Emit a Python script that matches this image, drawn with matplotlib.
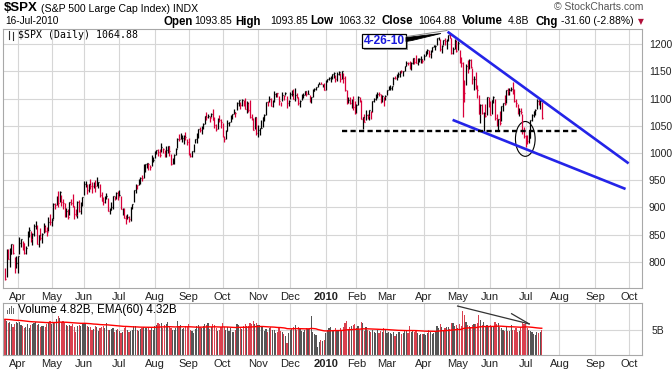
import matplotlib
matplotlib.use("Agg")
import matplotlib.pyplot as plt
import numpy as np
import pandas as pd
from matplotlib.patches import Ellipse, Polygon, Rectangle
from matplotlib.lines import Line2D

# $SPX daily bars, 20-Mar-2009 .. 16-Jul-2010
first_day = "2009-03-20"
last_axis_day = "2010-10-29"
nyse_holidays = ["2009-04-10", "2009-05-25", "2009-07-03", "2009-09-07", "2009-11-26",
                 "2009-12-25", "2010-01-01", "2010-01-18", "2010-02-15", "2010-04-02",
                 "2010-05-31", "2010-07-05", "2010-09-06"]
prev_close = 784.04  # 19-Mar-2009, only used to colour the first bar

close = [
    768.5, 822.9, 806.1, 813.9, 832.9, 815.9, 787.5, 797.9,
    811.1, 834.4, 842.5, 835.5, 815.6, 825.2, 856.6, 858.7, 841.5, 852.1, 865.3, 869.6, 832.4, 850.1,
    843.6, 851.9, 866.2, 857.5, 855.2, 873.6, 872.8,
    877.5, 907.2, 903.8, 919.5, 907.4, 929.2, 909.2, 908.4, 883.9, 893.1, 882.9, 909.7, 908.1, 903.5,
    888.3, 887.0, 910.3, 893.1, 906.8, 919.1,
    942.9, 944.7, 931.8, 942.5, 940.1, 939.1, 942.4, 939.2, 944.9, 946.2, 923.7, 912.0, 910.7, 918.4,
    921.2, 893.0, 895.1, 900.9, 920.3, 918.9, 927.2, 919.3,
    923.3, 896.4, 898.7, 881.0, 879.6, 882.7, 879.1, 901.1, 905.8, 932.7, 940.7, 940.4, 951.1, 954.6,
    954.1, 976.3, 979.3, 982.2, 979.6, 975.2, 986.8, 987.5,
    1002.6, 1005.7, 1002.7, 997.1, 1010.5, 1007.1, 994.4, 1005.8, 1012.7, 1004.1, 979.7, 989.7, 996.5,
    1007.4, 1026.1, 1025.6, 1028.0, 1028.1, 1031.0, 1028.9, 1020.6,
    998.0, 994.8, 1003.2, 1016.4, 1025.4, 1033.4, 1044.1, 1042.7, 1049.3, 1052.6, 1068.8, 1065.5,
    1068.3, 1064.7, 1071.7, 1060.9, 1050.8, 1044.4, 1063.0, 1060.6, 1057.1,
    1029.9, 1025.2, 1040.5, 1054.7, 1057.6, 1065.5, 1071.5, 1076.2, 1073.2, 1092.0, 1096.6, 1087.7,
    1097.9, 1091.1, 1081.4, 1092.9, 1079.6, 1067.0, 1063.4, 1042.6, 1066.1, 1036.2,
    1042.9, 1045.4, 1046.5, 1066.6, 1069.3, 1093.1, 1093.0, 1098.5, 1087.2, 1093.5, 1109.3, 1110.3,
    1109.8, 1094.9, 1091.4, 1106.2, 1105.7, 1110.6, 1091.5, 1095.6,
    1108.9, 1109.2, 1099.9, 1106.0, 1103.3, 1091.9, 1096.0, 1102.4, 1106.4, 1114.1, 1107.9, 1109.2,
    1096.1, 1102.5, 1114.1, 1118.0, 1120.6, 1126.5, 1127.8, 1126.2, 1126.4, 1115.1,
    1133.0, 1136.5, 1137.1, 1141.7, 1145.0, 1147.0, 1136.2, 1145.7, 1148.5, 1136.0, 1150.2, 1138.0,
    1116.5, 1091.8, 1096.8, 1092.2, 1097.5, 1084.5, 1073.9,
    1089.2, 1103.3, 1097.3, 1063.1, 1066.2, 1056.7, 1070.5, 1068.1, 1078.5, 1075.5, 1094.9, 1099.5,
    1106.8, 1109.2, 1108.0, 1094.6, 1105.2, 1102.9, 1104.5,
    1115.7, 1118.3, 1118.8, 1123.0, 1138.7, 1138.5, 1140.5, 1145.6, 1150.2, 1150.0, 1150.5, 1159.5,
    1166.2, 1165.8, 1159.9, 1165.8, 1174.2, 1167.7, 1165.7, 1166.6, 1173.2, 1173.3, 1169.4,
    1178.1, 1187.4, 1189.4, 1182.5, 1186.4, 1194.4, 1196.5, 1197.3, 1210.7, 1211.7, 1192.1, 1197.5,
    1207.2, 1205.9, 1208.7, 1217.3, 1212.1, 1183.7, 1191.4, 1206.8, 1186.7,
    1202.3, 1173.6, 1165.9, 1128.2, 1110.9, 1159.7, 1155.8, 1171.7, 1157.4, 1135.7, 1136.9, 1120.8,
    1115.1, 1071.6, 1087.7, 1073.7, 1074.0, 1068.0, 1103.1, 1089.4,
    1070.7, 1098.4, 1102.8, 1064.9, 1050.5, 1062.0, 1055.7, 1086.8, 1091.6, 1089.6, 1115.2, 1114.6,
    1116.0, 1117.5, 1113.2, 1095.3, 1092.0, 1073.7, 1076.8, 1074.6, 1041.2, 1030.7,
    1027.4, 1022.6, 1028.1, 1060.3, 1070.3, 1078.0, 1078.8, 1095.3, 1095.2, 1096.5, 1064.9,
]

high = [
    788.9, 823.0, 823.3, 826.0, 833.0, 832.0, 809.0, 810.5,
    811.1, 845.6, 842.6, 839.0, 835.5, 828.7, 856.9, 864.3, 856.9, 853.0, 870.3, 875.6, 868.3, 850.1,
    861.8, 852.9, 871.8, 868.3, 864.5, 882.1, 888.7,
    880.5, 907.8, 907.7, 920.3, 929.6, 930.2, 923.0, 915.6, 908.3, 898.4, 897.0, 910.0, 916.4, 924.6,
    903.0, 896.7, 911.8, 913.8, 909.5, 920.0,
    947.8, 949.4, 942.5, 942.5, 951.7, 946.3, 947.0, 949.8, 956.2, 946.3, 942.5, 928.0, 918.4, 921.9,
    927.1, 918.1, 898.7, 910.9, 921.4, 922.0, 928.0, 930.0,
    931.9, 921.2, 898.8, 898.6, 886.8, 887.9, 883.6, 901.1, 905.9, 933.0, 944.0, 941.9, 951.6, 956.5,
    959.8, 979.4, 979.8, 982.5, 982.3, 977.8, 996.7, 993.2,
    1003.6, 1005.9, 1006.6, 1008.0, 1018.0, 1010.1, 1005.8, 1012.9, 1013.1, 1012.6, 998.6, 991.2,
    999.0, 1008.9, 1027.6, 1035.8, 1037.7, 1032.5, 1033.0, 1039.5, 1025.2,
    1028.4, 1000.3, 1003.4, 1016.5, 1026.1, 1036.3, 1044.2, 1048.2, 1049.7, 1056.0, 1068.8, 1074.8,
    1071.5, 1067.3, 1073.8, 1080.2, 1066.3, 1053.5, 1065.1, 1069.6, 1063.4,
    1054.6, 1030.6, 1042.6, 1060.6, 1058.0, 1070.7, 1071.5, 1081.4, 1075.1, 1093.2, 1096.6, 1094.7,
    1098.6, 1098.3, 1101.4, 1095.2, 1094.7, 1097.3, 1072.5, 1064.6, 1066.8, 1066.8,
    1052.2, 1046.4, 1061.0, 1066.7, 1071.3, 1093.2, 1096.4, 1105.4, 1101.8, 1097.6, 1113.7, 1110.4,
    1111.1, 1105.4, 1094.7, 1112.4, 1107.6, 1111.4, 1105.6, 1098.0,
    1112.3, 1115.6, 1117.3, 1119.1, 1110.7, 1103.3, 1096.6, 1108.4, 1110.4, 1114.8, 1114.1, 1116.2,
    1106.2, 1103.7, 1117.7, 1118.8, 1121.6, 1126.5, 1130.4, 1130.4, 1126.5, 1128.0,
    1133.9, 1136.6, 1139.2, 1142.5, 1145.4, 1149.7, 1143.0, 1148.4, 1150.4, 1147.8, 1150.4, 1147.8,
    1141.6, 1115.5, 1103.7, 1103.7, 1099.5, 1105.1, 1096.4,
    1089.4, 1104.7, 1102.7, 1097.3, 1067.1, 1071.2, 1079.3, 1071.2, 1080.0, 1077.8, 1095.0, 1101.0,
    1108.2, 1112.4, 1112.3, 1108.6, 1107.3, 1103.5, 1107.2,
    1116.0, 1123.7, 1125.6, 1123.7, 1139.4, 1141.1, 1145.4, 1148.3, 1150.3, 1153.4, 1150.6, 1160.3,
    1169.2, 1167.1, 1169.6, 1167.8, 1174.7, 1174.2, 1180.7, 1173.9, 1174.9, 1177.8, 1173.0,
    1181.4, 1187.7, 1191.8, 1189.6, 1188.6, 1194.7, 1199.2, 1199.0, 1210.7, 1213.9, 1210.2, 1197.9,
    1208.6, 1211.0, 1208.9, 1217.3, 1219.8, 1211.4, 1195.1, 1209.4, 1208.0,
    1205.1, 1188.6, 1176.0, 1167.6, 1135.1, 1163.9, 1170.5, 1173.6, 1173.6, 1157.2, 1141.9, 1148.7,
    1124.9, 1107.3, 1090.2, 1090.0, 1074.7, 1090.8, 1103.5, 1102.6,
    1094.8, 1098.4, 1105.7, 1098.6, 1071.9, 1063.2, 1077.7, 1087.0, 1092.0, 1105.9, 1115.6, 1118.7,
    1118.7, 1121.0, 1131.2, 1118.5, 1099.6, 1090.6, 1083.6, 1082.6, 1071.3, 1048.1,
    1033.6, 1032.9, 1042.5, 1060.6, 1071.3, 1078.2, 1080.8, 1099.1, 1099.6, 1098.4, 1093.9,
]

low = [
    766.2, 772.3, 805.0, 791.0, 814.8, 814.5, 779.8, 789.0,
    779.8, 814.5, 826.7, 821.4, 814.5, 814.8, 829.0, 845.4, 836.5, 831.0, 847.0, 860.9, 832.3, 826.8,
    840.6, 835.6, 853.9, 854.7, 847.1, 856.9, 868.4,
    866.0, 879.2, 897.3, 903.9, 901.4, 909.8, 903.3, 896.8, 882.7, 882.5, 878.9, 886.1, 905.2, 901.4,
    879.0, 884.5, 881.5, 891.9, 887.6, 903.0,
    923.3, 938.5, 923.9, 929.3, 934.1, 926.4, 936.3, 928.0, 939.0, 935.7, 919.7, 911.6, 903.8, 907.9,
    915.7, 893.0, 888.9, 896.0, 896.3, 913.0, 916.2, 912.9,
    920.3, 896.3, 886.4, 879.9, 869.3, 878.5, 872.8, 875.3, 896.5, 909.9, 927.5, 934.4, 941.0, 943.2,
    947.9, 953.3, 965.9, 972.3, 969.4, 968.7, 976.7, 982.9,
    990.2, 998.1, 994.3, 992.5, 1002.0, 1001.0, 992.4, 993.4, 1000.8, 994.6, 978.5, 980.6, 980.6,
    996.4, 1009.1, 1022.5, 1026.2, 1021.1, 1016.2, 1023.1, 1014.6,
    996.3, 992.0, 992.3, 1001.4, 1018.7, 1018.9, 1028.0, 1038.4, 1035.0, 1043.4, 1052.9, 1061.2,
    1064.3, 1057.5, 1066.4, 1060.4, 1045.9, 1041.2, 1044.4, 1057.8, 1046.5,
    1029.5, 1020.0, 1025.9, 1041.2, 1050.1, 1057.6, 1063.0, 1071.5, 1066.7, 1078.7, 1086.4, 1081.5,
    1086.9, 1086.2, 1080.8, 1074.3, 1075.3, 1063.8, 1060.6, 1042.6, 1043.4, 1034.0,
    1029.4, 1033.9, 1045.2, 1047.1, 1059.3, 1070.0, 1087.4, 1093.5, 1085.7, 1085.3, 1094.2, 1102.2,
    1102.7, 1088.3, 1086.8, 1094.9, 1097.6, 1106.5, 1083.7, 1086.3,
    1098.9, 1105.3, 1098.7, 1096.5, 1100.8, 1088.6, 1085.4, 1097.0, 1101.3, 1107.1, 1105.4, 1108.0,
    1094.7, 1091.1, 1102.5, 1114.4, 1116.0, 1121.1, 1126.1, 1126.1, 1121.9, 1115.0,
    1116.6, 1129.7, 1133.9, 1131.3, 1136.2, 1138.3, 1131.3, 1133.2, 1143.8, 1131.4, 1135.8, 1129.3,
    1114.8, 1090.2, 1091.4, 1089.9, 1083.1, 1078.5, 1071.6,
    1073.9, 1088.0, 1094.0, 1062.8, 1044.5, 1056.5, 1060.1, 1062.9, 1060.1, 1063.0, 1075.5, 1094.7,
    1097.7, 1100.8, 1105.4, 1092.2, 1094.6, 1086.0, 1097.6,
    1105.9, 1116.0, 1116.6, 1116.1, 1125.7, 1136.4, 1134.9, 1140.1, 1139.0, 1147.0, 1142.0, 1150.4,
    1159.9, 1161.6, 1155.3, 1152.9, 1163.8, 1163.7, 1165.1, 1161.5, 1167.7, 1166.0, 1165.0,
    1170.7, 1178.7, 1182.8, 1177.2, 1175.1, 1186.0, 1194.7, 1188.8, 1198.7, 1208.5, 1186.8, 1183.7,
    1199.0, 1198.9, 1191.0, 1205.1, 1211.1, 1181.6, 1181.8, 1191.4, 1186.3,
    1188.6, 1165.0, 1158.2, 1065.8, 1094.2, 1125.7, 1147.7, 1155.3, 1156.1, 1126.1, 1115.0, 1117.2,
    1100.7, 1071.5, 1055.9, 1072.7, 1040.8, 1065.6, 1069.9, 1084.1,
    1069.9, 1072.0, 1091.8, 1060.5, 1049.9, 1042.2, 1052.3, 1058.3, 1077.2, 1089.0, 1091.5, 1107.1,
    1107.3, 1113.9, 1108.2, 1094.2, 1085.3, 1071.6, 1067.9, 1071.5, 1035.2, 1028.3,
    1010.9, 1015.9, 1018.4, 1028.3, 1058.2, 1066.6, 1070.5, 1080.5, 1087.7, 1080.5, 1063.3,
]

volume = [  # billions of shares
    7.0, 6.6, 6.2, 6.4, 6.1, 5.4, 6.0, 6.4,
    6.2, 6.4, 5.9, 5.6, 5.3, 5.4, 6.0, 5.2, 5.8, 6.1, 6.3, 6.5, 5.9, 6.0, 5.4, 5.6, 5.7, 5.5, 6.0, 6.4, 6.6,
    6.0, 6.5, 6.3, 7.0, 7.6, 7.3, 6.4, 6.6, 6.2, 5.9, 5.7, 5.8, 5.6, 6.1, 5.5, 4.6, 5.7, 5.9, 5.7, 6.3,
    6.1, 6.2, 5.6, 5.4, 5.5, 4.9, 5.1, 5.6, 5.5, 4.8, 5.2, 5.4, 5.7, 5.2, 6.2, 5.0, 4.9, 5.1, 5.3, 4.6, 4.9, 5.1,
    4.8, 4.3, 4.6, 5.2, 5.7, 5.0, 4.6, 4.8, 5.0, 5.6, 5.6, 5.0, 4.7, 5.1, 5.3, 5.5, 5.3, 5.2, 5.4, 4.9, 5.5, 5.0,
    5.6, 5.9, 6.2, 6.1, 6.3, 5.2, 5.8, 6.0, 6.5, 5.5, 5.3, 4.9, 5.0, 5.2, 6.6, 5.7, 5.9, 5.1, 5.3, 5.6, 5.4,
    6.1, 4.9, 4.8, 4.4, 5.1, 5.6, 5.8, 5.4, 5.2, 5.7, 6.1, 5.9, 6.3, 5.1, 5.4, 6.0, 5.9, 5.3, 4.8, 4.9, 5.5,
    6.2, 5.5, 5.0, 5.4, 4.8, 5.3, 4.6, 4.5, 5.0, 6.0, 5.9, 5.4, 5.1, 5.6, 6.1, 5.7, 5.6, 6.2, 6.0, 6.6, 6.1, 6.3,
    5.9, 5.8, 5.5, 5.6, 4.8, 5.1, 4.6, 5.2, 5.4, 4.9, 5.0, 4.3, 4.6, 5.3, 4.8, 4.6, 4.2, 3.7, 2.4, 4.4,
    5.0, 5.1, 5.5, 5.8, 4.9, 5.4, 5.1, 4.8, 4.6, 5.0, 5.2, 5.1, 5.3, 7.6, 4.6, 4.2, 4.0, 1.6, 2.5, 3.0, 2.7, 2.9,
    4.3, 4.9, 5.2, 5.5, 5.0, 4.8, 5.3, 4.7, 4.9, 5.2, 4.9, 5.5, 6.3, 6.7, 5.1, 5.4, 5.6, 5.8, 6.0,
    5.2, 5.6, 5.0, 6.4, 6.3, 4.7, 5.5, 4.9, 4.8, 4.6, 5.0, 4.5, 4.4, 4.9, 4.3, 4.8, 4.5, 5.2, 4.9,
    4.3, 4.6, 4.4, 4.1, 4.5, 3.7, 4.1, 4.6, 4.5, 4.2, 4.3, 4.8, 4.9, 4.4, 5.6, 4.5, 4.9, 4.6, 4.7, 4.3, 3.9, 4.2, 4.1,
    4.2, 4.0, 4.3, 4.9, 4.6, 4.2, 4.3, 4.6, 5.6, 5.3, 6.1, 5.4, 5.0, 5.2, 5.5, 5.4, 5.1, 6.3, 6.2, 5.6, 5.9,
    5.2, 6.1, 5.6, 8.6, 7.9, 6.5, 5.9, 5.6, 5.4, 5.9, 6.0, 6.1, 6.3, 7.8, 6.9, 5.8, 6.5, 5.7, 5.9, 5.6,
    5.9, 5.7, 5.4, 6.5, 6.1, 6.3, 5.5, 5.3, 4.9, 4.7, 5.4, 4.8, 4.8, 5.8, 5.0, 4.9, 5.2, 4.6, 4.8, 5.5, 6.3, 6.0,
    6.2, 5.3, 5.0, 4.8, 4.5, 4.1, 3.9, 4.6, 4.3, 4.5, 4.82,
]

price_ticks = [800, 850, 900, 950, 1000, 1050, 1100, 1150, 1200]

# annotations drawn on the chart (bar index, value)
upper_trend = [(274.6, 1223), (386.9, 981)]
lower_trend = [(277.7, 1061), (385.0, 934)]
support = [(208.9, 1040.7), (357.0, 1040.7)]
circle = dict(center=(322.8, 1026), width=12.2, height=64)
vol_trend = [(280.8, 9.6), (325.2, 6.1)]
vol_tick = [(314.3, 8.1), (325.2, 6.1)]

plt.rcParams['font.family'] = ['Liberation Sans', 'DejaVu Sans']

W, H = 672, 371
fig = plt.figure(figsize=(W / 100, H / 100), dpi=100)
fig.patch.set_facecolor("white")


def fx(x):
    return x / W


def fy(y):
    return 1 - y / H


ax = fig.add_axes([fx(3), fy(288), fx(642) - fx(3), fy(29) - fy(288)])
axv = fig.add_axes([fx(3), fy(355), fx(642) - fx(3), fy(303) - fy(355)], sharex=ax)

# trading calendar for x positions / month grid
days = pd.bdate_range(first_day, last_axis_day)
days = days[~days.isin(pd.to_datetime(nyse_holidays))]
new_month = ~pd.Series(days.to_period("M")).duplicated().values
month_pos = np.flatnonzero(new_month)[1:]
month_lab = ["2010" if (d.month == 1) else d.strftime("%b") for d in days[month_pos]]

n = len(close)
xs = np.arange(n)
prev = np.r_[prev_close, close[:-1]]
up = np.array(close) >= prev
bar_col = np.where(up, "#000000", "#d8003a")
vol_col = np.where(up, "#555555", "#d9414f")

grid_c = "#d6d6d6"
for a in (ax, axv):
    a.set_facecolor("white")
    for s in a.spines.values():
        s.set_color("#a8a8a8")
        s.set_linewidth(0.8)
    a.set_xticks(month_pos)
    a.grid(True, color=grid_c, lw=0.8)
    a.set_axisbelow(True)
    a.yaxis.tick_right()
    a.tick_params(axis="both", length=0, labelsize=7.5, colors="#222222")

# price bars (HLC)
ax.vlines(xs, low, high, colors=bar_col, lw=0.9)
ax.hlines(close, xs, xs + 0.55, colors=bar_col, lw=0.9)
ax.set_xlim(-1.2, 395.2)
ax.set_ylim(752, 1228)
ax.set_yticks(price_ticks)
ax.set_yticklabels([str(v) for v in price_ticks])
ax.tick_params(axis="y", pad=5)
ax.tick_params(axis="x", pad=3, labelsize=8)
ax.set_xticklabels(month_lab)

# trend lines, support, circle
ax.plot(*zip(*upper_trend), color="#2424e8", lw=1.9, solid_capstyle="butt")
ax.plot(*zip(*lower_trend), color="#2424e8", lw=1.9, solid_capstyle="butt")
ax.plot(*zip(*support), color="black", lw=1.7, ls=(0, (2.2, 1.4)))
ax.add_patch(Ellipse(circle["center"], circle["width"], circle["height"],
                     fill=False, ec="black", lw=0.8))

# volume
axv.bar(xs, volume, width=0.72, color=vol_col, linewidth=0)
ema = pd.Series(volume).ewm(span=60, adjust=False).mean()
axv.plot(xs, ema, color="#ff0000", lw=1.0)
axv.plot(*zip(*vol_trend), color="#333333", lw=0.9)
axv.plot(*zip(*vol_tick), color="#333333", lw=0.9)
axv.set_ylim(0, 10.2)
axv.set_yticks([5])
axv.set_yticklabels(["5B"])
axv.tick_params(axis="y", pad=7)
axv.tick_params(axis="x", pad=3, labelsize=8)
axv.set_xticklabels(month_lab)

for a in (ax, axv):
    for t in a.get_xticklabels():
        if t.get_text() == "2010":
            t.set_fontweight("bold")

# header
fig.text(fx(4), fy(8), "$SPX", fontsize=9.5, fontweight="bold", va="center")
fig.text(fx(41), fy(8.5), "(S&P 500 Large Cap Index) INDX", fontsize=7.6, va="center")
fig.text(fx(643), fy(7.5), "\u00a9 StockCharts.com", fontsize=7.5, va="center", ha="right",
         color="#555555")
fig.text(fx(5), fy(21.5), "16-Jul-2010", fontsize=7.3, va="center")
hdr = [(163, "Open", True), (194, "1093.85", False), (235, "High", True),
       (270, "1093.85", False), (310, "Low", True), (338, "1063.32", False),
       (382, "Close", True), (418, "1064.88", False), (462, "Volume", True),
       (508, "4.8B", False), (535, "Chg", True), (561, "-31.60 (-2.88%)", False)]
for x0, s, bold in hdr:
    fig.text(fx(x0), fy(21.5), s, fontsize=8.3 if bold else 7.5,
             fontweight="bold" if bold else "normal", va="center")
fig.text(fx(641), fy(21.5), "\u25bc", fontsize=5.5, color="#b0103a", va="center", ha="center",
         family="DejaVu Sans")

# legend rows inside the panels
fig.text(fx(18), fy(35), "$SPX (Daily) 1064.88", fontsize=7.1, va="center",
         family="DejaVu Sans Mono")
for (x0, y0, y1) in [(8.5, 31, 39), (12.5, 32, 40)]:
    fig.add_artist(Line2D([fx(x0), fx(x0)], [fy(y0), fy(y1)], color="#333333", lw=0.8))
fig.text(fx(18), fy(310.5), "Volume 4.82B, EMA(60) 4.32B", fontsize=8.4, va="center")
for i, hh in enumerate([4, 6, 8, 6]):
    fig.add_artist(Rectangle((fx(7 + 2 * i), fy(314)), fx(1.4), fy(314 - hh) - fy(314),
                             color="#666666", lw=0))

# "4-26-10" call-out
fig.add_artist(Rectangle((fx(364), fy(50)), fx(44), fy(36) - fy(50), color="#9a9a9a", lw=0))
fig.add_artist(Rectangle((fx(362), fy(48)), fx(44), fy(34) - fy(48), fc="white",
                         ec="black", lw=0.9))
fig.text(fx(384), fy(41.2), "4-26-10", fontsize=8.6, fontweight="bold", color="#1a1adc",
         ha="center", va="center")
fig.add_artist(Polygon([(fx(406), fy(37.5)), (fx(406), fy(41.5)), (fx(412), fy(40.5)),
                        (fx(441), fy(33.5))], closed=True, fc="black", ec="black", lw=0.6))
fig.add_artist(Line2D([fx(407), fx(447)], [fy(36.5), fy(30.5)], color="#888888", lw=0.7))

fig.savefig("out.png", dpi=100)
